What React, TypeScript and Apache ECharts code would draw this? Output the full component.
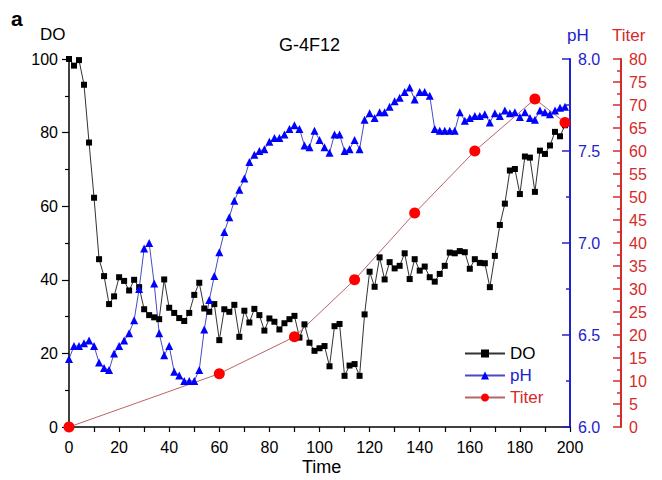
import React, { useEffect, useRef } from "react";
import * as echarts from "echarts";

const timeStep: number[] = [
  0, 2, 4, 6, 8, 10, 12, 14, 16, 18,
  20, 22, 24, 26, 28, 30, 32, 34, 36, 38,
  40, 42, 44, 46, 48, 50, 52, 54, 56, 58,
  60, 62, 64, 66, 68, 70, 72, 74, 76, 78,
  80, 82, 84, 86, 88, 90, 92, 94, 96, 98,
  100, 102, 104, 106, 108, 110, 112, 114, 116, 118,
  120, 122, 124, 126, 128, 130, 132, 134, 136, 138,
  140, 142, 144, 146, 148, 150, 152, 154, 156, 158,
  160, 162, 164, 166, 168, 170, 172, 174, 176, 178,
  180, 182, 184, 186, 188, 190, 192, 194, 196, 198,
];

const doValues: number[] = [
  100, 98.2, 99.7, 93, 77.3, 62.3, 45.6, 41, 33.4, 35.5,
  40.7, 39.7, 37.1, 40, 38, 32, 30.4, 29.8, 29.3, 40.1,
  32.4, 31, 29.6, 28.8, 31, 35.9, 39.2, 32.2, 31.3, 33.4,
  23.6, 32, 31.3, 33.2, 24.5, 31.6, 28.4, 32.1, 30.4, 26.2,
  29.5, 28.6, 26.5, 28.2, 29.3, 30.2, 24.3, 27.9, 22.9, 20.7,
  21.4, 22, 16.5, 27.4, 28, 13.9, 16.7, 17.1, 13.9, 30.6,
  42.2, 38.1, 46.1, 40.1, 44.8, 43.1, 43.8, 47.2, 40.2, 45.6,
  42.5, 43.6, 40.7, 39.5, 41.6, 43.8, 47.4, 47.2, 47.8, 47.5,
  43, 45.6, 44.6, 44.5, 38, 46.5, 54.9, 60.7, 69.7, 70.1,
  63.3, 73.5, 73.2, 63.9, 75.1, 74.2, 76.5, 80.2, 79, 82,
];

const phValues: number[] = [
  6.37, 6.44, 6.44, 6.455, 6.47, 6.44, 6.35, 6.32, 6.31, 6.4,
  6.44, 6.47, 6.51, 6.58, 6.75, 6.97, 7.0, 6.78, 6.51, 6.39,
  6.44, 6.3, 6.28, 6.25, 6.25, 6.25, 6.31, 6.53, 6.69, 6.82,
  6.95, 7.06, 7.14, 7.23, 7.29, 7.35, 7.44, 7.48, 7.5, 7.51,
  7.55, 7.57, 7.57, 7.59, 7.62, 7.64, 7.62, 7.53, 7.52, 7.61,
  7.56, 7.52, 7.49, 7.59, 7.59, 7.5, 7.51, 7.56, 7.51, 7.67,
  7.705, 7.68, 7.71, 7.71, 7.74, 7.77, 7.79, 7.82, 7.845, 7.78,
  7.82, 7.82, 7.8, 7.62, 7.61, 7.61, 7.61, 7.61, 7.71, 7.665,
  7.68, 7.69, 7.69, 7.7, 7.655, 7.705, 7.69, 7.72, 7.705, 7.71,
  7.685, 7.71, 7.68, 7.67, 7.72, 7.71, 7.7, 7.72, 7.735, 7.74,
];

const titerTime: number[] = [0, 60, 90, 114, 138, 162, 186, 198];
const titerValues: number[] = [0, 11.6, 19.6, 32, 46.5, 60, 71.3, 66.2];

const FONT = "Arial, 'Liberation Sans', sans-serif";
const BLUE = "#2222cc";
const RED = "#d42a2a";

export default function App() {
  const ref = useRef<HTMLDivElement>(null);

  useEffect(() => {
    if (!ref.current) return;
    const chart = echarts.init(ref.current, undefined, { renderer: "svg" });

    const doData = timeStep.map((t, i) => [t, doValues[i]]);
    const phData = timeStep.map((t, i) => [t, phValues[i]]);
    const titerData = titerTime.map((t, i) => [t, titerValues[i]]);

    const labelStyle = { fontFamily: FONT, fontSize: 16 };

    chart.setOption({
      animation: false,
      backgroundColor: "#ffffff",
      grid: { left: 69, right: 92, top: 59, bottom: 53, containLabel: false },
      graphic: [
        { type: "text", left: 11, top: 8, style: { text: "a", font: `bold 21px ${FONT}`, fill: "#000" } },
        { type: "text", left: 40, top: 26, style: { text: "DO", font: `17px ${FONT}`, fill: "#000" } },
        { type: "text", left: 279, top: 36, style: { text: "G-4F12", font: `18px ${FONT}`, fill: "#000" } },
        { type: "text", left: 567, top: 27, style: { text: "pH", font: `17px ${FONT}`, fill: BLUE } },
        { type: "text", left: 612, top: 27, style: { text: "Titer", font: `17px ${FONT}`, fill: RED } },
        { type: "text", left: 302, top: 458, style: { text: "Time", font: `18px ${FONT}`, fill: "#000" } },
      ],
      legend: {
        orient: "vertical",
        left: 459,
        top: 340,
        itemWidth: 40,
        itemHeight: 10,
        itemGap: 5,
        textStyle: { fontFamily: FONT, fontSize: 17, lineHeight: 17 },
        data: [
          { name: "DO", textStyle: { color: "#000" } },
          { name: "pH", textStyle: { color: BLUE } },
          { name: "Titer", textStyle: { color: RED } },
        ],
      },
      xAxis: {
        type: "value",
        min: 0,
        max: 200,
        interval: 20,
        axisLine: { show: true, onZero: false, lineStyle: { color: "#000", width: 1.5 } },
        axisTick: { show: true, length: 5, lineStyle: { color: "#000", width: 1.2 } },
        minorTick: { show: true, splitNumber: 2, length: 5, lineStyle: { color: "#000", width: 1.2 } },
        axisLabel: { ...labelStyle, color: "#000", margin: 12 },
        splitLine: { show: false },
      },
      yAxis: [
        {
          type: "value",
          min: 0,
          max: 100,
          interval: 20,
          position: "left",
          axisLine: { show: true, lineStyle: { color: "#000", width: 1.5 } },
          axisTick: { show: true, length: 7, lineStyle: { color: "#000", width: 1.2 } },
          minorTick: { show: true, splitNumber: 2, length: 4, lineStyle: { color: "#000", width: 1.2 } },
          axisLabel: { ...labelStyle, color: "#000", margin: 11 },
          splitLine: { show: false },
        },
        {
          type: "value",
          min: 6,
          max: 8,
          interval: 0.5,
          position: "right",
          axisLine: { show: true, onZero: false, lineStyle: { color: BLUE, width: 2 } },
          axisTick: { show: true, inside: true, length: 8, lineStyle: { color: BLUE, width: 1.5 } },
          minorTick: { show: true, splitNumber: 2, length: 4, lineStyle: { color: BLUE, width: 1.5 } },
          axisLabel: { ...labelStyle, color: BLUE, margin: 8, formatter: (v: number) => v.toFixed(1) },
          splitLine: { show: false },
        },
        {
          type: "value",
          min: 0,
          max: 80,
          interval: 5,
          position: "right",
          offset: 51,
          axisLine: { show: true, onZero: false, lineStyle: { color: RED, width: 2 } },
          axisTick: { show: true, inside: true, length: 8, lineStyle: { color: RED, width: 1.5 } },
          minorTick: { show: true, splitNumber: 2, length: 4, lineStyle: { color: RED, width: 1.5 } },
          axisLabel: { ...labelStyle, color: RED, margin: 8 },
          splitLine: { show: false },
        },
      ],
      series: [
        {
          name: "DO",
          type: "line",
          yAxisIndex: 0,
          data: doData,
          symbol: "rect",
          symbolSize: 6,
          lineStyle: { color: "#333333", width: 1 },
          itemStyle: { color: "#000000" },
        },
        {
          name: "pH",
          type: "line",
          yAxisIndex: 1,
          data: phData,
          symbol: "triangle",
          symbolSize: 8,
          lineStyle: { color: "#4a4ac0", width: 1 },
          itemStyle: { color: "#0000ff" },
        },
        {
          name: "Titer",
          type: "line",
          yAxisIndex: 2,
          data: titerData,
          symbol: "circle",
          symbolSize: 11,
          lineStyle: { color: "#b86464", width: 1 },
          itemStyle: { color: "#ff0000" },
        },
      ],
    });

    return () => chart.dispose();
  }, []);

  return <div ref={ref} style={{ width: 662, height: 480, position: "absolute", left: 0, top: 0 }} />;
}
